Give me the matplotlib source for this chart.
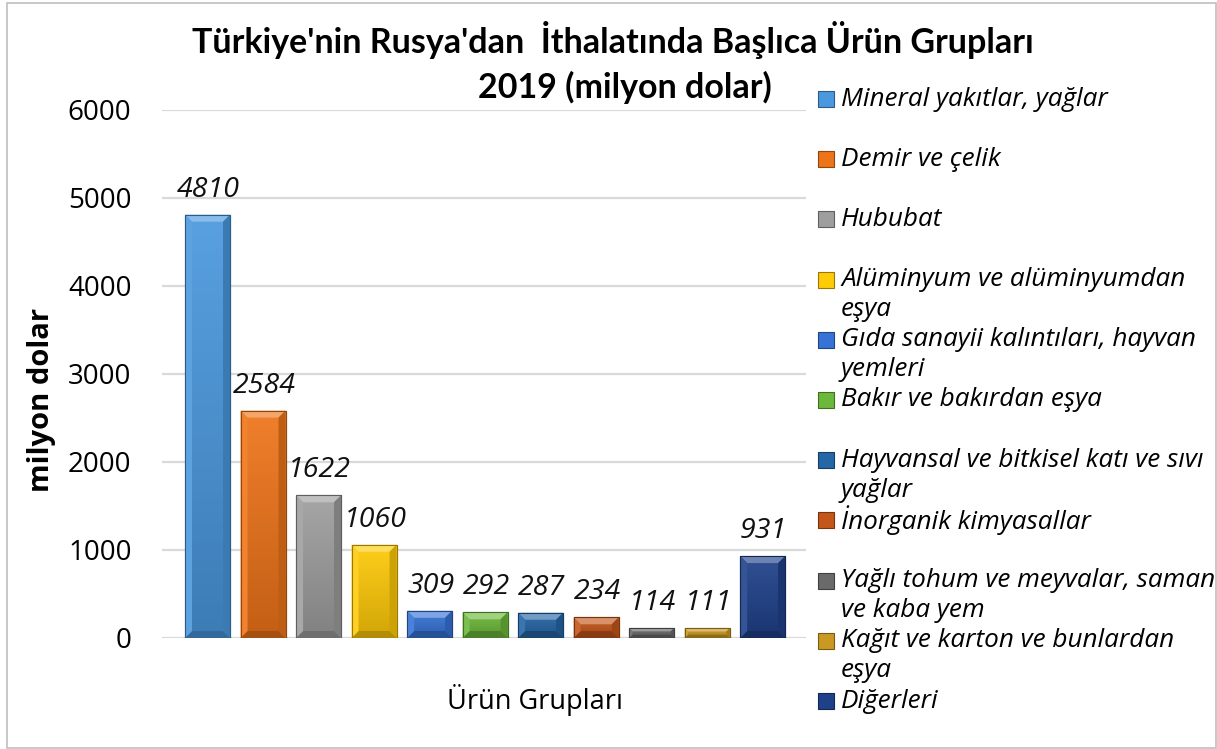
import numpy as np
import matplotlib
matplotlib.use("Agg")
import matplotlib.pyplot as plt
import matplotlib.colors as mcolors
from matplotlib.patches import Rectangle, Polygon

plt.rcParams['font.family'] = ['Open Sans', 'DejaVu Sans']

# data
categories = ["Mineral yakıtlar, yağlar", "Demir ve çelik", "Hububat",
              "Alüminyum ve alüminyumdan\neşya",
              "Gıda sanayii kalıntıları, hayvan\nyemleri",
              "Bakır ve bakırdan eşya",
              "Hayvansal ve bitkisel katı ve sıvı\nyağlar",
              "İnorganik kimyasallar",
              "Yağlı tohum ve meyvalar, saman\nve kaba yem",
              "Kağıt ve karton ve bunlardan\neşya",
              "Diğerleri"]
values = [4810, 2584, 1622, 1060, 309, 292, 287, 234, 114, 111, 931]
colors = ["#4A98DE", "#EE7419", "#9E9E9E", "#FFCA08", "#3773D6", "#6CB83A",
          "#2566A6", "#C4561A", "#6A6A6A", "#C99A22", "#1F418A"]
yticks = [0, 1000, 2000, 3000, 4000, 5000, 6000]

W, H = 1217, 749
fig = plt.figure(figsize=(W / 100, H / 100), dpi=100)
ax = fig.add_axes([162 / W, 1 - 638 / H, 644 / W, 528 / H])

x = np.arange(len(values))
bw = 0.81
ax.set_xlim(-0.82, 10.78)
ax.set_ylim(0, 6000)
ax.set_yticks(yticks)
ax.set_xticks([])
ax.yaxis.grid(True, color="#D9D9D9", linewidth=1.6)
ax.set_axisbelow(True)
for s in ax.spines.values():
    s.set_visible(False)
ax.tick_params(axis='y', length=0, pad=22, labelsize=20)


def shade(c, f):
    r = np.array(mcolors.to_rgb(c))
    if f > 0:
        return tuple(r + (1 - r) * f)
    return tuple(r * (1 + f))


bars = ax.bar(x, values, width=bw, color=colors, zorder=2,
              edgecolor=[shade(c, -0.35) for c in colors], linewidth=0.8)

# pixel scale for the bevel
fig.canvas.draw()
p0 = ax.transData.transform((0, 0))
p1 = ax.transData.transform((1, 1000))
sx = p1[0] - p0[0]
sy = (p1[1] - p0[1]) / 1000

for b, c, v in zip(bars, colors, values):
    x0 = b.get_x()
    x1 = x0 + b.get_width()
    grad = np.linspace(0, 1, 64).reshape(-1, 1)
    cmap = mcolors.LinearSegmentedColormap.from_list(
        "g", [shade(c, -0.18), shade(c, 0.08)])
    im = ax.imshow(grad, cmap=cmap, origin='lower', aspect='auto',
                   extent=[x0, x1, 0, v], zorder=2.1)
    im.set_clip_path(b)
    bp = min(7.0, v * sy / 3)
    bx = bp / sx
    by = bp / sy
    polys = [
        ([(x0, v), (x1, v), (x1 - bx, v - by), (x0 + bx, v - by)], shade(c, 0.35)),
        ([(x0, 0), (x1, 0), (x1 - bx, by), (x0 + bx, by)], shade(c, -0.3)),
        ([(x0, 0), (x0, v), (x0 + bx, v - by), (x0 + bx, by)], shade(c, 0.1)),
        ([(x1, 0), (x1, v), (x1 - bx, v - by), (x1 - bx, by)], shade(c, -0.2)),
    ]
    for pts, pc in polys:
        ax.add_patch(Polygon(pts, closed=True, facecolor=pc, edgecolor='none',
                             zorder=2.2))
    ax.add_patch(Rectangle((x0, 0), x1 - x0, v, fill=False, zorder=2.3,
                           edgecolor=shade(c, -0.4), linewidth=0.8))
    ax.annotate(str(v), (b.get_x() + b.get_width() / 2, v),
                xytext=(1, 18), textcoords='offset pixels', ha='center',
                va='baseline', fontsize=20.5, style='italic', color='#111111')

ax.set_xlim(-0.82, 10.78)
ax.set_ylim(0, 6000)

# title
fig.text(613 / W, 1 - 40 / H, "Türkiye'nin Rusya'dan  İthalatında Başlıca Ürün Grupları",
         ha='center', va='center', fontsize=24.5, fontweight='bold',
         family=['Lato', 'DejaVu Sans'])
fig.text(625 / W, 1 - 87 / H, "2019 (milyon dolar)",
         ha='center', va='center', fontsize=24.5, fontweight='bold',
         family=['Lato', 'DejaVu Sans'])

# axis titles
fig.text(42 / W, 1 - 400 / H, "milyon dolar", rotation=90, ha='center',
         va='center', fontsize=21, fontweight='bold')
fig.text(535 / W, 1 - 700 / H, "Ürün Grupları", ha='center', va='center',
         fontsize=19.5)

# legend
for i, (lab, c) in enumerate(zip(categories, colors)):
    yc = 99 + 60.2 * i
    fig.patches.append(Rectangle((818 / W, 1 - (yc + 8) / H), 16 / W, 16 / H,
                                 transform=fig.transFigure, facecolor=c,
                                 edgecolor=shade(c, -0.4), linewidth=0.8))
    for k, line in enumerate(lab.split("\n")):
        fig.text(841 / W, 1 - (yc + 30 * k) / H, line, ha='left', va='center',
                 fontsize=18.8, style='italic')

# outer border
fig.patches.append(Rectangle((7 / W, 1 / H), 1209 / W, 745 / H,
                             transform=fig.transFigure, fill=False,
                             edgecolor="#BFBFBF", linewidth=1.2))

fig.savefig("out.png", dpi=100)
